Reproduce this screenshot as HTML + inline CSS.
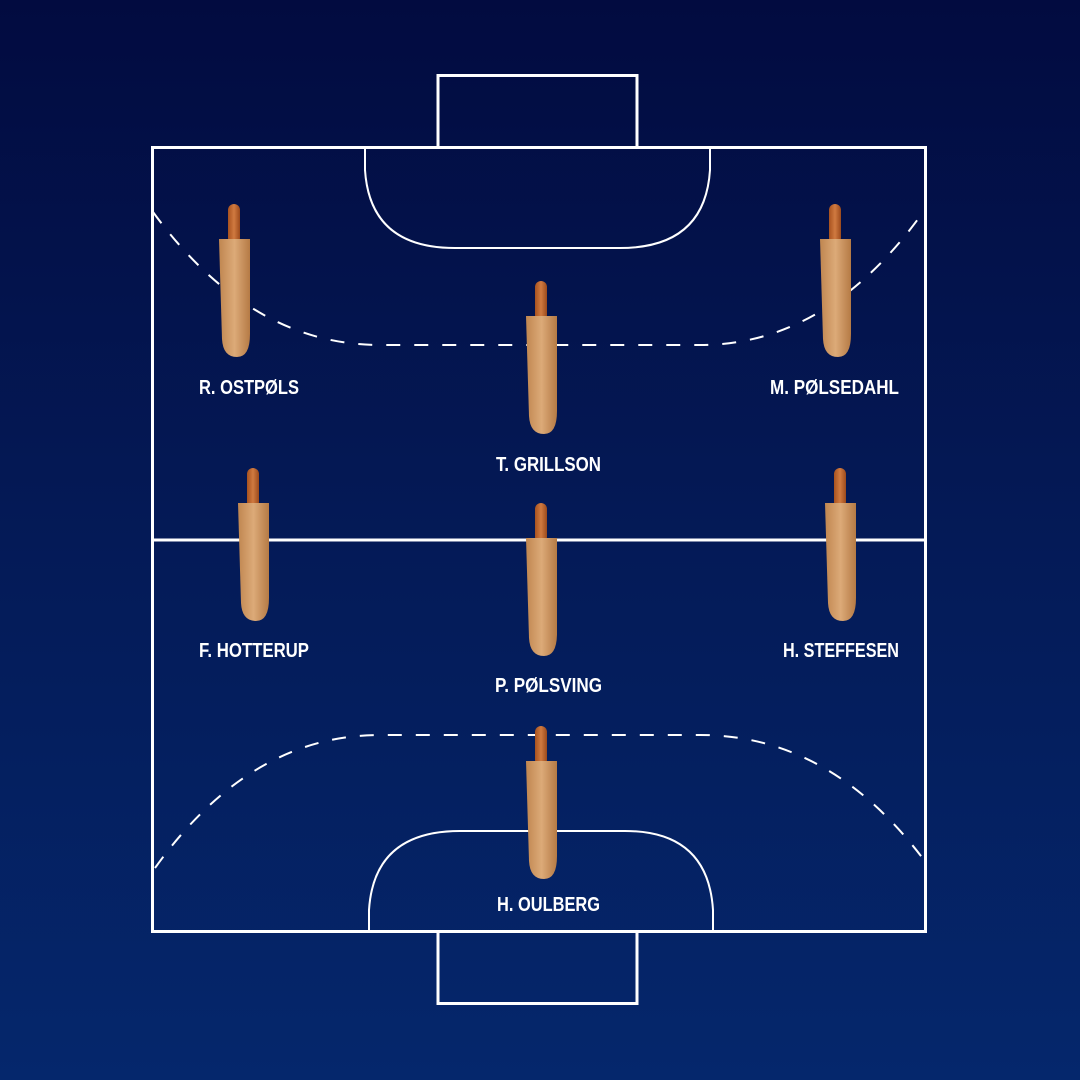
<!DOCTYPE html>
<html><head><meta charset="utf-8"><style>
html,body{margin:0;padding:0;width:1080px;height:1080px;overflow:hidden}
body{background:linear-gradient(180deg,#020b40 0%,#041a57 50%,#05276c 100%)}
svg{display:block}
text{font-family:"Liberation Sans Narrow","Liberation Sans",sans-serif;font-weight:bold;font-size:20px;fill:#fff;text-anchor:middle}
</style></head><body>
<svg width="1080" height="1080" viewBox="0 0 1080 1080">
<defs>
<linearGradient id="bun" x1="0" x2="1" y1="0" y2="0">
<stop offset="0" stop-color="#c08650"/><stop offset="0.5" stop-color="#dcaa78"/><stop offset="1" stop-color="#b57a45"/>
</linearGradient>
<linearGradient id="saus" x1="0" x2="1">
<stop offset="0" stop-color="#a8521f"/><stop offset="0.5" stop-color="#d07a40"/><stop offset="1" stop-color="#9c4a1c"/>
</linearGradient>
<g id="hd">
<rect x="-6" y="0" width="12" height="40" rx="6" fill="url(#saus)"/>
<path d="M-15,35 L16,35 L16,130 Q16,153 3,153 Q-11,153 -12,135 Z" fill="url(#bun)"/>
</g>
</defs>
<g fill="none" stroke="#fff" stroke-width="3">
<rect x="152.5" y="147.5" width="773" height="784"/>
<line x1="152" y1="540" x2="926" y2="540"/>
<path d="M438,147 V75.5 H637 V147"/>
<path d="M438,932 V1003.5 H637 V932"/>
<path d="M365,147 V170 Q370,248 455,248 L620,248 Q705,248 710,170 V147" stroke-width="2"/>
<path d="M369,932 V910 Q374,831 460,831 L625,831 Q708,831 713,910 V932" stroke-width="2"/>
<path d="M153,212 Q250,345 380,345 L700,345 Q830,345 926,208" stroke-width="2" stroke-dasharray="14,14"/>
<path d="M155,868 Q250,735 380,735 L700,735 Q830,735 924,860" stroke-width="2" stroke-dasharray="14,14"/>
</g>
<use href="#hd" x="234" y="204"/>
<use href="#hd" x="835" y="204"/>
<use href="#hd" x="541" y="281"/>
<use href="#hd" x="253" y="468"/>
<use href="#hd" x="541" y="503"/>
<use href="#hd" x="840" y="468"/>
<use href="#hd" x="541" y="726"/>
<text x="249" y="394" textLength="100" lengthAdjust="spacingAndGlyphs">R. OSTPØLS</text>
<text x="834.5" y="394" textLength="129" lengthAdjust="spacingAndGlyphs">M. PØLSEDAHL</text>
<text x="548.5" y="471" textLength="105" lengthAdjust="spacingAndGlyphs">T. GRILLSON</text>
<text x="254" y="657" textLength="110" lengthAdjust="spacingAndGlyphs">F. HOTTERUP</text>
<text x="841" y="657" textLength="116" lengthAdjust="spacingAndGlyphs">H. STEFFESEN</text>
<text x="548.5" y="692" textLength="107" lengthAdjust="spacingAndGlyphs">P. PØLSVING</text>
<text x="548.5" y="911" textLength="103" lengthAdjust="spacingAndGlyphs">H. OULBERG</text>
</svg>
</body></html>
